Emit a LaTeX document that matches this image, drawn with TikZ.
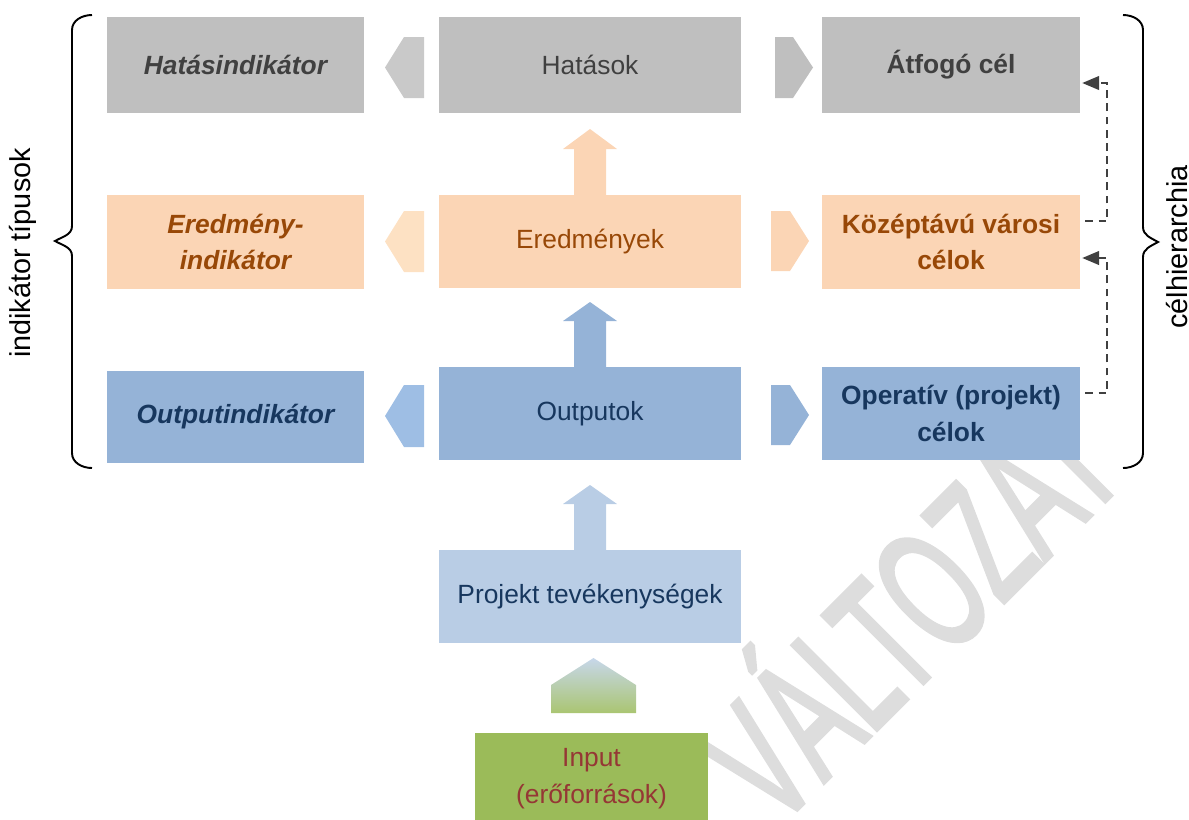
\documentclass[tikz,border=0pt]{standalone}
\usepackage{fontspec}
\setmainfont{Liberation Sans}
\newfontfamily\markFam[FakeBold=3]{Liberation Sans}
\usetikzlibrary{arrows,shapes.misc}
\definecolor{hatasGray}{HTML}{BFBFBF}
\definecolor{hatasGrayLight}{HTML}{C9C9C9}
\definecolor{hatasText}{HTML}{404040}
\definecolor{eredPeach}{HTML}{FBD5B5}
\definecolor{eredPeachLight}{HTML}{FDE1C3}
\definecolor{eredText}{HTML}{984807}
\definecolor{outBlue}{HTML}{95B3D7}
\definecolor{outBlueLight}{HTML}{9EBEE4}
\definecolor{outText}{HTML}{17375E}
\definecolor{projBlue}{HTML}{B9CDE5}
\definecolor{inputGreen}{HTML}{9BBB59}
\definecolor{inputText}{HTML}{953735}
\definecolor{markGray}{HTML}{DDDDDD}
\newcommand{\px}{0.02cm}
\newcommand{\boxFont}{\fontsize{15}{21}\selectfont}
\newcommand{\sideFont}{\fontsize{16.4}{20}\selectfont}
\newcommand{\markFont}{\markFam\fontsize{98}{98}\selectfont}

\tikzset{
  blockbox/.style={rectangle, inner sep=0pt, align=center, font=\boxFont},
  leftbox/.style={blockbox, minimum width=257*\px, font=\boxFont\bfseries\itshape},
  midbox/.style={blockbox, minimum width=302*\px},
  rightbox/.style={blockbox, minimum width=258*\px, font=\boxFont\bfseries},
  dasharr/.style={dashed, dash pattern=on 4.5pt off 3pt, line width=1.2pt, color=hatasText, -triangle 45},
  brace/.style={line width=1.1pt}
}

\begin{document}
\begin{tikzpicture}[x=\px, y=-\px]
\useasboundingbox (0,0) rectangle (1189,819);
% watermark
\node[rotate=45, anchor=base west, inner sep=0pt, text=markGray, font=\markFont] (wmark) at (776,830) {\scalebox{0.58}[1]{VÁLTOZAT}};

% top row
\node[leftbox, fill=hatasGray, text=hatasText, minimum height=96*\px] (hatind) at (235.5,65) {Hatásindikátor};
\node[midbox, fill=hatasGray, text=hatasText, minimum height=96*\px] (hatasok) at (590,65) {Hatások};
\node[rightbox, fill=hatasGray, text=hatasText, minimum height=96*\px] (atfogo) at (951,65) {Átfogó cél};
\fill[hatasGrayLight] (424,37) -- (404,37) -- (385,67.5) -- (404,98) -- (424,98) -- cycle;
\fill[hatasGray] (775,37) -- (793,37) -- (813,67.5) -- (793,98) -- (775,98) -- cycle;

% middle row
\node[leftbox, fill=eredPeach, text=eredText, minimum height=94*\px] (eredind) at (235.5,242) {Eredmény-\\indikátor};
\node[midbox, fill=eredPeach, text=eredText, minimum height=93*\px] (eredmeny) at (590,241.5) {Eredmények};
\node[rightbox, fill=eredPeach, text=eredText, minimum height=94*\px] (kozep) at (951,242) {Középtávú városi\\célok};
\fill[eredPeachLight] (424,211) -- (404,211) -- (385,241.5) -- (404,272) -- (424,272) -- cycle;
\fill[eredPeach] (771,211) -- (790,211) -- (809,241) -- (790,271) -- (771,271) -- cycle;
\fill[eredPeach] (574,195) -- (574,149) -- (563,149) -- (590,129) -- (617,149) -- (606,149) -- (606,195) -- cycle;

% bottom row
\node[leftbox, fill=outBlue, text=outText, minimum height=92*\px] (outind) at (235.5,417) {Outputindikátor};
\node[midbox, fill=outBlue, text=outText, minimum height=93*\px] (outputok) at (590,413.5) {Outputok};
\node[rightbox, fill=outBlue, text=outText, minimum height=93*\px] (operativ) at (951,413.5) {Operatív (projekt)\\célok};
\fill[outBlueLight] (424,385) -- (404,385) -- (385,416) -- (404,447) -- (424,447) -- cycle;
\fill[outBlue] (771,385) -- (790,385) -- (809,415) -- (790,445) -- (771,445) -- cycle;
\fill[outBlue] (574,367) -- (574,321) -- (563,321) -- (590,302) -- (617,321) -- (606,321) -- (606,367) -- cycle;

% project and input
\node[midbox, fill=projBlue, text=outText, minimum height=93*\px] (projekt) at (590,596.5) {Projekt tevékenységek};
\fill[projBlue] (574,550) -- (574,504) -- (563,504) -- (590,485) -- (617,504) -- (606,504) -- (606,550) -- cycle;
\shade[top color=projBlue!80!white, bottom color=inputGreen!85!white] (551,713) -- (551,685) -- (593.5,658) -- (636,685) -- (636,713) -- cycle;
\node[blockbox, fill=inputGreen, text=inputText, minimum width=233*\px, minimum height=92*\px] (input) at (591.5,779) {Input\\(erőforrások)};

% hierarchy links
\draw[dasharr] ([shift={(5,-21)}]kozep.east) -| ([shift={(27,18)}]atfogo.east) -- ([shift={(2,18)}]atfogo.east);
\draw[dasharr] ([shift={(5,-20.5)}]operativ.east) -| ([shift={(27,16)}]kozep.east) -- ([shift={(2,16)}]kozep.east);

% braces
\draw[brace] (92,15) to[out=180,in=90] (72,30) -- (72,226) to[out=-90,in=30] (55,241) to[out=-30,in=90] (72,256) -- (72,453) to[out=-90,in=180] (92,468);
\draw[brace] (1123,15) to[out=0,in=90] (1143,30) -- (1143,227) to[out=-90,in=150] (1158,242) to[out=210,in=90] (1143,257) -- (1143,453) to[out=-90,in=0] (1123,468);
\node[rotate=90, font=\sideFont] (indtip) at (23,253) {indikátor típusok};
\node[rotate=90, font=\sideFont] (celhier) at (1177,247) {célhierarchia};
\end{tikzpicture}
\end{document}
